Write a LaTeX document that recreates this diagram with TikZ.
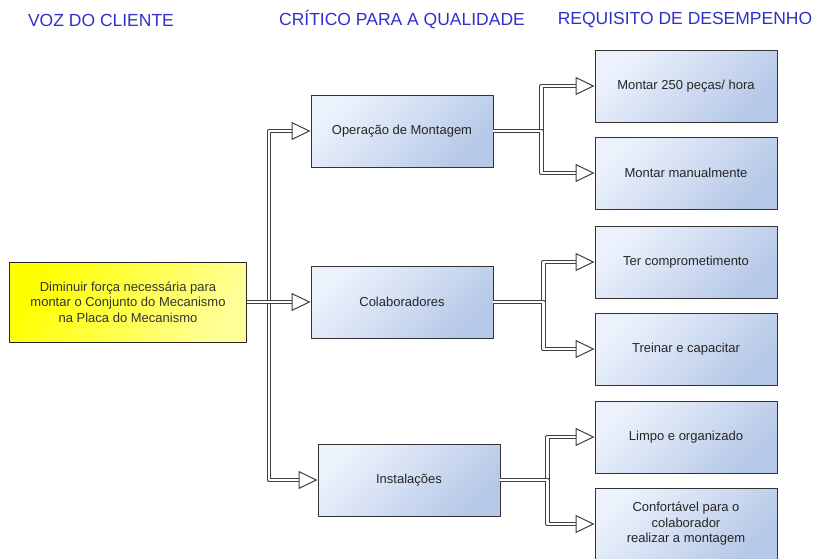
\documentclass[tikz,border=0pt]{standalone}
\usepackage{fontspec}
\setmainfont{Liberation Sans}
\usetikzlibrary{arrows.meta}
\definecolor{azulclaro}{RGB}{236,242,252}
\definecolor{azulescuro}{RGB}{182,200,231}
\definecolor{amareloforte}{RGB}{255,255,0}
\definecolor{amareloclaro}{RGB}{255,255,150}
\definecolor{azultitulo}{RGB}{48,48,204}
\begin{document}
\begin{tikzpicture}[
				x=1pt,y=-1pt,line join = round,>=stealth,inner sep = 1mm,
				caixaazul/.style={rectangle,draw = black!80,line width=0.9pt,top color=azulclaro,bottom color=azulescuro,shading angle=45, minimum width=182pt, minimum height=72pt,align=center,text=black!85,font=\fontsize{13}{15.5}\selectfont},
				caixaamarela/.style={rectangle,draw = black!85,line width=0.9pt,top color=amareloforte,bottom color=amareloclaro,shading angle=60, minimum width=237pt, minimum height=80pt,align=center,text=black!80,font=\fontsize{13}{15.5}\selectfont},
				titulo/.style={text=azultitulo,font=\fontsize{17.5}{20}\selectfont},
				seta/.style={draw=black!75,line width=1pt,double=white,double distance=2.6pt,-{Triangle[open,fill=white,length=19pt,width=18pt]}}]
				\useasboundingbox (0,0) rectangle (815,558);
				\node at (101,20) (tvoz) [titulo] {VOZ DO CLIENTE};
				\node at (402,20) (tcritico) [titulo] {CRÍTICO PARA A QUALIDADE};
				\node at (685,20) (trequisito) [titulo] {REQUISITO DE DESEMPENHO};
				\node at (128,302) (voz) [caixaamarela] {Diminuir força necessária para\\montar o Conjunto do Mecanismo\\na Placa do Mecanismo};
				\node at (402,131) (nodeOp) [caixaazul] {Operação de Montagem};
				\node at (402,302) (nodeCol) [caixaazul] {Colaboradores};
				\node at (409,480) (nodeInst) [caixaazul] {Instalações};
				\node at (686,86) (nodeR1) [caixaazul] {Montar 250 peças/ hora};
				\node at (686,173) (nodeR2) [caixaazul] {Montar manualmente};
				\node at (686,262) (nodeR3) [caixaazul] {Ter comprometimento};
				\node at (686,349) (nodeR4) [caixaazul] {Treinar e capacitar};
				\node at (686,437) (nodeR5) [caixaazul] {Limpo e organizado};
				\node at (686,524) (nodeR6) [caixaazul] {Confortável para o\\colaborador\\realizar a montagem};
				\draw[seta] (voz.east) -- ++(22,0) |- (nodeOp.west);
				\draw[seta] (voz.east) -- ++(22,0) |- (nodeInst.west);
				\draw[seta] (voz.east) -- (nodeCol.west);
				\draw[seta] (nodeOp.east) -- ++(48,0) |- (nodeR1.west);
				\draw[seta] (nodeOp.east) -- ++(48,0) |- (nodeR2.west);
				\draw[seta] (nodeCol.east) -- ++(50,0) |- (nodeR3.west);
				\draw[seta] (nodeCol.east) -- ++(50,0) |- (nodeR4.west);
				\draw[seta] (nodeInst.east) -- ++(47,0) |- (nodeR5.west);
				\draw[seta] (nodeInst.east) -- ++(47,0) |- (nodeR6.west);
\end{tikzpicture}
\end{document}
